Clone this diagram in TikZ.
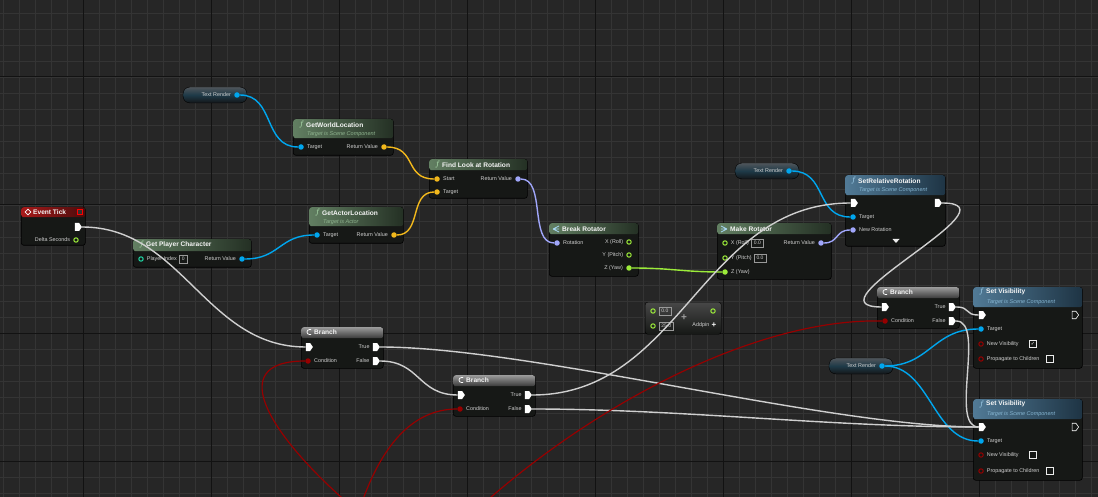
\documentclass[tikz,border=0pt]{standalone}
\usepackage{fontspec}
\setmainfont{Liberation Sans}
\newfontfamily\symfont{DejaVu Sans}
\usetikzlibrary{positioning,shapes.geometric,shapes.symbols}
\definecolor{bgcol}{HTML}{262626}
\definecolor{gridminor}{HTML}{343434}
\definecolor{gridmajor}{HTML}{121212}
\definecolor{bodycol}{HTML}{161816}
\definecolor{hgreenA}{HTML}{627F62}
\definecolor{hgreenB}{HTML}{243024}
\definecolor{hblueA}{HTML}{517A96}
\definecolor{hblueB}{HTML}{1E3444}
\definecolor{hgrayA}{HTML}{9A9A9A}
\definecolor{hgrayB}{HTML}{3A3A3A}
\definecolor{hredA}{HTML}{A81A1A}
\definecolor{hredB}{HTML}{4A0C0C}
\definecolor{varA}{HTML}{50565B}
\definecolor{varM}{HTML}{1E3A48}
\definecolor{varB}{HTML}{141618}
\definecolor{execcol}{HTML}{CFCFCF}
\definecolor{objcol}{HTML}{00A6EE}
\definecolor{veccol}{HTML}{F2B81C}
\definecolor{rotcol}{HTML}{A0A6FA}
\definecolor{fltcol}{HTML}{9CEC3A}
\definecolor{intcol}{HTML}{1FD9A6}
\definecolor{boolcol}{HTML}{960000}
\definecolor{pintext}{HTML}{D0D0D0}
\definecolor{fgreen}{HTML}{B4E6B4}
\definecolor{fblue}{HTML}{A8D8F4}
\definecolor{subgreen}{HTML}{8FB48F}
\definecolor{subblue}{HTML}{86B6D2}
\begin{document}
\begin{tikzpicture}[x=1pt,y=-1pt,
    pdat/.style={circle,inner sep=0,minimum size=5.5pt,fill=#1},
    phol/.style={circle,inner sep=0,minimum size=4.4pt,draw=#1,line width=1pt}]
  \tikzstyle{bpbody}=[anchor=north west,fill=bodycol,draw=black,rounded corners=2.5pt,inner sep=0,line width=0.6pt]
  \tikzstyle{hgreen}=[anchor=north west,inner sep=0,rounded corners=2.5pt,left color=hgreenA,right color=hgreenB]
  \tikzstyle{hblue}=[anchor=north west,inner sep=0,rounded corners=2.5pt,left color=hblueA,right color=hblueB]
  \tikzstyle{hgray}=[anchor=north west,inner sep=0,rounded corners=2.5pt,top color=hgrayA,bottom color=hgrayB]
  \tikzstyle{hred}=[anchor=north west,inner sep=0,rounded corners=2.5pt,left color=hredA,right color=hredB]
  \tikzstyle{varpill}=[rounded corners=7pt,draw=black,inner sep=0,top color=varA,bottom color=varB,middle color=varM,minimum width=64pt,minimum height=16pt]
  \tikzstyle{ttl}=[anchor=west,inner sep=0,text=white!92!gray,font=\fontsize{6.6}{7}\selectfont\bfseries]
  \tikzstyle{subttl}=[anchor=west,inner sep=0,font=\fontsize{5.5}{6}\selectfont\itshape]
  \tikzstyle{ficon}=[anchor=west,inner sep=0,font=\fontsize{8}{8}\selectfont]
  \tikzstyle{lbl}=[inner sep=0,text=pintext,font=\fontsize{5.4}{6}\selectfont]
  \tikzstyle{valbox}=[draw=gray!80,line width=0.5pt,inner sep=0,inner xsep=2.5pt,minimum height=8pt,text=pintext,font=\fontsize{5}{5}\selectfont]
  \tikzstyle{chkbox}=[draw=white!85!gray,line width=0.6pt,minimum size=6.5pt,inner sep=0,text=white,font=\symfont\fontsize{5}{5}\selectfont]
  \tikzstyle{pexec}=[signal,signal to=east,signal pointer angle=110,fill=white,inner sep=0,minimum width=7pt,minimum height=8pt]
  \tikzstyle{pexeco}=[signal,signal to=east,signal pointer angle=110,draw=white,line width=0.6pt,inner sep=0,minimum width=6.5pt,minimum height=7.5pt]
  \tikzstyle{wexec}=[draw=execcol,line width=1.4pt]
  \tikzstyle{wobj}=[draw=objcol,line width=1.4pt]
  \tikzstyle{wvec}=[draw=veccol,line width=1.4pt]
  \tikzstyle{wrot}=[draw=rotcol,line width=1.4pt]
  \tikzstyle{wflt}=[draw=fltcol,line width=1.4pt]
  \tikzstyle{wbool}=[draw=boolcol,line width=1.2pt]

  \useasboundingbox (0,0) rectangle (1098,497);
  \clip (0,0) rectangle (1098,497);
  \fill[bgcol] (0,0) rectangle (1098,497);
  % grid
  \foreach \x in {3,19,...,1098} \draw[gridminor,line width=0.8pt] (\x,0) -- (\x,497);
  \foreach \y in {13,29,...,497} \draw[gridminor,line width=0.8pt] (0,\y) -- (1098,\y);
  \foreach \x in {83,211,...,1098} \draw[gridmajor,line width=1pt] (\x,0) -- (\x,497);
  \foreach \y in {77,205,...,497} \draw[gridmajor,line width=1pt] (0,\y) -- (1098,\y);

  % text render getters
  \node[varpill] (tr1) at (215,95) {};
  \node[pdat=objcol] (tr1P) at (237,95) {};
  \node[lbl,left=3pt of tr1P] {Text Render};
  \node[varpill] (tr2) at (767,171) {};
  \node[pdat=objcol] (tr2P) at (789,171) {};
  \node[lbl,left=3pt of tr2P] {Text Render};
  \node[varpill] (tr3) at (861,366) {};
  \node[pdat=objcol] (tr3P) at (882,366) {};
  \node[lbl,left=3pt of tr3P] {Text Render};

  % event tick
  \node[bpbody,minimum width=64pt,minimum height=38pt] (et) at (21,207) {};
  \node[hred,minimum width=64pt,minimum height=10pt] (etH) at (21,207) {};
  \node[diamond,draw=white,line width=0.6pt,inner sep=0,minimum size=6pt] (etI) at (28,212) {};
  \node[ttl] at (33,212) {Event Tick};
  \node[draw=red,fill=black!80,line width=0.6pt,inner sep=0,minimum size=5pt] (etS) at (80,212) {};
  \node[pexec] (etX) at (77,227) {};
  \node[phol=fltcol] (etD) at (76,240) {};
  \node[lbl,left=3pt of etD] {Delta Seconds};

  % get player character
  \node[bpbody,minimum width=118pt,minimum height=28pt] (gpc) at (133,239) {};
  \node[hgreen,minimum width=118pt,minimum height=12pt] (gpcH) at (133,239) {};
  \node[ficon,text=fgreen] at (139,245) {$f$};
  \node[ttl] at (146,245) {Get Player Character};
  \node[phol=intcol] (gpcI) at (141,259) {};
  \node[lbl,right=3pt of gpcI] (gpcL) {Player Index};
  \node[valbox,right=2pt of gpcL] {0};
  \node[pdat=objcol] (gpcR) at (242,259) {};
  \node[lbl,left=3pt of gpcR] {Return Value};

  % get world location
  \node[bpbody,minimum width=100pt,minimum height=36pt] (gwl) at (293,119) {};
  \node[hgreen,minimum width=100pt,minimum height=19pt] (gwlH) at (293,119) {};
  \node[ficon,text=fgreen] at (299,125) {$f$};
  \node[ttl] at (306,125) {GetWorldLocation};
  \node[subttl,text=subgreen] at (307,134) {Target is Scene Component};
  \node[pdat=objcol] (gwlT) at (301,147) {};
  \node[lbl,right=3pt of gwlT] {Target};
  \node[pdat=veccol] (gwlR) at (384,147) {};
  \node[lbl,left=3pt of gwlR] {Return Value};

  % get actor location
  \node[bpbody,minimum width=94pt,minimum height=36pt] (gal) at (309,207) {};
  \node[hgreen,minimum width=94pt,minimum height=19pt] (galH) at (309,207) {};
  \node[ficon,text=fgreen] at (315,213) {$f$};
  \node[ttl] at (322,213) {GetActorLocation};
  \node[subttl,text=subgreen] at (323,222) {Target is Actor};
  \node[pdat=objcol] (galT) at (317,235) {};
  \node[lbl,right=3pt of galT] {Target};
  \node[pdat=veccol] (galR) at (394,235) {};
  \node[lbl,left=3pt of galR] {Return Value};

  % find look at rotation
  \node[bpbody,minimum width=98pt,minimum height=39pt] (flr) at (429,159) {};
  \node[hgreen,minimum width=98pt,minimum height=11pt] (flrH) at (429,159) {};
  \node[ficon,text=fgreen] at (435,165) {$f$};
  \node[ttl] at (442,165) {Find Look at Rotation};
  \node[pdat=veccol] (flrS) at (437,179) {};
  \node[lbl,right=3pt of flrS] {Start};
  \node[pdat=veccol] (flrT) at (437,192) {};
  \node[lbl,right=3pt of flrT] {Target};
  \node[pdat=rotcol] (flrR) at (518,179) {};
  \node[lbl,left=3pt of flrR] {Return Value};

  % break rotator
  \node[bpbody,minimum width=89pt,minimum height=53pt] (br) at (549,223) {};
  \node[hgreen,minimum width=89pt,minimum height=11pt] (brH) at (549,223) {};
  \draw[fblue,line width=0.7pt] (553,229) -- (559,226) (553,229) -- (559,229) (553,229) -- (559,232);
  \node[ttl] at (562,229) {Break Rotator};
  \node[pdat=rotcol] (brR) at (557,243) {};
  \node[lbl,right=3pt of brR] {Rotation};
  \node[phol=fltcol] (brX) at (629,242) {};
  \node[lbl,left=3pt of brX] {X (Roll)};
  \node[phol=fltcol] (brY) at (629,255) {};
  \node[lbl,left=3pt of brY] {Y (Pitch)};
  \node[pdat=fltcol] (brZ) at (629,268) {};
  \node[lbl,left=3pt of brZ] {Z (Yaw)};

  % make rotator
  \node[bpbody,minimum width=114pt,minimum height=56pt] (mr) at (717,223) {};
  \node[hgreen,minimum width=114pt,minimum height=11pt] (mrH) at (717,223) {};
  \draw[fblue,line width=0.7pt] (721,226) -- (727,229) (721,229) -- (727,229) (721,232) -- (727,229);
  \node[ttl] at (730,229) {Make Rotator};
  \node[phol=fltcol] (mrX) at (725,243) {};
  \node[lbl,right=3pt of mrX] (mrXL) {X (Roll)};
  \node[valbox,right=2pt of mrXL] {0.0};
  \node[phol=fltcol] (mrY) at (725,258) {};
  \node[lbl,right=3pt of mrY] (mrYL) {Y (Pitch)};
  \node[valbox,right=2pt of mrYL] {0.0};
  \node[pdat=fltcol] (mrZ) at (725,272) {};
  \node[lbl,right=3pt of mrZ] {Z (Yaw)};
  \node[pdat=rotcol] (mrR) at (821,243) {};
  \node[lbl,left=3pt of mrR] {Return Value};

  % set relative rotation
  \node[bpbody,minimum width=100pt,minimum height=71pt] (srr) at (845,175) {};
  \node[hblue,minimum width=100pt,minimum height=20pt] (srrH) at (845,175) {};
  \node[ficon,text=fblue] at (851,181) {$f$};
  \node[ttl] at (858,181) {SetRelativeRotation};
  \node[subttl,text=subblue] at (859,190) {Target is Scene Component};
  \node[pexec] (srrI) at (853,203) {};
  \node[pexec] (srrO) at (937,203) {};
  \node[pdat=objcol] (srrT) at (853,217) {};
  \node[lbl,right=3pt of srrT] {Target};
  \node[pdat=rotcol] (srrN) at (853,230) {};
  \node[lbl,right=3pt of srrN] {New Rotation};
  \fill[white!85!gray] (892.5,239) -- (899.5,239) -- (896,243) -- cycle;

  % branches
  \node[bpbody,minimum width=82pt,minimum height=41pt] (b1) at (301,327) {};
  \node[hgray,minimum width=82pt,minimum height=11pt] (b1H) at (301,327) {};
  \node[ttl] at (314,332) {Branch};
  \node[pexec] (b1I) at (308,347) {};
  \node[pexec] (b1t) at (375,347) {};
  \node[lbl,left=3pt of b1t] {True};
  \node[pdat=boolcol] (b1C) at (308,361) {};
  \node[lbl,right=3pt of b1C] {Condition};
  \node[pexec] (b1f) at (375,361) {};
  \node[lbl,left=3pt of b1f] {False};

  \node[bpbody,minimum width=82pt,minimum height=41pt] (b2) at (453,375) {};
  \node[hgray,minimum width=82pt,minimum height=11pt] (b2H) at (453,375) {};
  \node[ttl] at (466,380) {Branch};
  \node[pexec] (b2I) at (460,395) {};
  \node[pexec] (b2t) at (527,395) {};
  \node[lbl,left=3pt of b2t] {True};
  \node[pdat=boolcol] (b2C) at (460,409) {};
  \node[lbl,right=3pt of b2C] {Condition};
  \node[pexec] (b2f) at (527,409) {};
  \node[lbl,left=3pt of b2f] {False};

  \node[bpbody,minimum width=82pt,minimum height=41pt] (b3) at (877,287) {};
  \node[hgray,minimum width=82pt,minimum height=11pt] (b3H) at (877,287) {};
  \node[ttl] at (890,292) {Branch};
  \node[pexec] (b3I) at (884,307) {};
  \node[pexec] (b3t) at (951,307) {};
  \node[lbl,left=3pt of b3t] {True};
  \node[pdat=boolcol] (b3C) at (885,321) {};
  \node[lbl,right=3pt of b3C] {Condition};
  \node[pexec] (b3f) at (951,321) {};
  \node[lbl,left=3pt of b3f] {False};

  \foreach \bx/\by in {308/332,460/380,884/292}
    \draw[white,line width=0.7pt] (\bx+1.5,\by-2.5) arc[start angle=90,end angle=270,radius=2.5pt] -- ++(1.5,0) (\bx+1.5,\by-2.5) -- ++(1.5,0);

  % set visibility
  \node[bpbody,minimum width=109pt,minimum height=81pt] (sv1) at (973,287) {};
  \node[hblue,minimum width=109pt,minimum height=20pt] (sv1H) at (973,287) {};
  \node[ficon,text=fblue] at (979,292) {$f$};
  \node[ttl] at (986,292) {Set Visibility};
  \node[subttl,text=subblue] at (987,302) {Target is Scene Component};
  \node[pexec] (sv1I) at (981,315) {};
  \node[pexeco] (sv1O) at (1074,315) {};
  \node[pdat=objcol] (sv1T) at (981,329) {};
  \node[lbl,right=3pt of sv1T] {Target};
  \node[phol=boolcol] (sv1V) at (981,344) {};
  \node[lbl,right=3pt of sv1V] {New Visibility};
  \node[chkbox] (sv1Vc) at (1033,344) {✓};
  \node[phol=boolcol] (sv1P) at (981,359) {};
  \node[lbl,right=3pt of sv1P] {Propagate to Children};
  \node[chkbox] (sv1Pc) at (1050,359) {};

  \node[bpbody,minimum width=109pt,minimum height=81pt] (sv2) at (973,399) {};
  \node[hblue,minimum width=109pt,minimum height=20pt] (sv2H) at (973,399) {};
  \node[ficon,text=fblue] at (979,404) {$f$};
  \node[ttl] at (986,404) {Set Visibility};
  \node[subttl,text=subblue] at (987,414) {Target is Scene Component};
  \node[pexec] (sv2I) at (981,427) {};
  \node[pexeco] (sv2O) at (1074,427) {};
  \node[pdat=objcol] (sv2T) at (981,441) {};
  \node[lbl,right=3pt of sv2T] {Target};
  \node[phol=boolcol] (sv2V) at (981,455) {};
  \node[lbl,right=3pt of sv2V] {New Visibility};
  \node[chkbox] (sv2Vc) at (1033,455) {};
  \node[phol=boolcol] (sv2P) at (981,471) {};
  \node[lbl,right=3pt of sv2P] {Propagate to Children};
  \node[chkbox] (sv2Pc) at (1050,471) {};

  % add node
  \node[anchor=north west,draw=black,rounded corners=2.5pt,inner sep=0,top color=black!72,bottom color=bodycol,minimum width=76pt,minimum height=32pt] (add) at (645,302) {};
  \node[phol=fltcol] (addA) at (653,311) {};
  \node[valbox,right=3pt of addA] {0.0};
  \node[phol=fltcol] (addB) at (653,326) {};
  \node[valbox,right=3pt of addB] {25.0};
  \node[inner sep=0,text=gray!75,font=\bfseries\fontsize{10}{10}\selectfont] (addPlus) at (684,318) {+};
  \node[phol=fltcol] (addO) at (713,311) {};
  \node[inner sep=0,text=white,font=\bfseries\fontsize{8}{8}\selectfont] (addN) at (714,325.5) {+};
  \node[lbl,left=2pt of addN] {Addpin};

  % wires
  \draw[wobj] (tr1P.east) .. controls +(35,0) and +(-35,0) .. (gwlT.west);
  \draw[wobj] (gpcR.east) .. controls +(35,0) and +(-35,0) .. (galT.west);
  \draw[wvec] (gwlR.east) .. controls +(30,0) and +(-30,0) .. (flrS.west);
  \draw[wvec] (galR.east) .. controls +(25,0) and +(-25,0) .. (flrT.west);
  \draw[wrot] (flrR.east) .. controls +(25,0) and +(-25,0) .. (brR.west);
  \draw[wflt] (brZ.east) .. controls +(40,0) and +(-40,0) .. (mrZ.west);
  \draw[wrot] (mrR.east) .. controls +(15,0) and +(-15,0) .. (srrN.west);
  \draw[wobj] (tr2P.east) .. controls +(35,0) and +(-35,0) .. (srrT.west);
  \draw[wobj] (tr3P.east) .. controls +(45,0) and +(-45,0) .. (sv1T.west);
  \draw[wobj] (tr3P.east) .. controls +(45,0) and +(-45,0) .. (sv2T.west);

  \draw[wexec] (etX.east) .. controls +(100,0) and +(-100,0) .. (b1I.west);
  \draw[wexec] (b1t.east) .. controls +(150,0) and +(-150,0) .. (sv2I.west);
  \draw[wexec] (b1f.east) .. controls +(40,0) and +(-40,0) .. (b2I.west);
  \draw[wexec] (b2t.east) .. controls +(150,0) and +(-150,0) .. (srrI.west);
  \draw[wexec] (b2f.east) .. controls +(150,0) and +(-150,0) .. (sv2I.west);
  \draw[wexec] (srrO.east) .. controls +(80,0) and +(-80,0) .. (b3I.west);
  \draw[wexec] (b3t.east) .. controls +(15,0) and +(-15,0) .. (sv1I.west);
  \draw[wexec] (b3f.east) .. controls +(30,0) and +(-30,0) .. (sv2I.west);

  \coordinate (condA) at (350,505);
  \coordinate (condB) at (361,505);
  \coordinate (condC) at (482,505);
  \draw[wbool] (b1C.west) .. controls (220,361) and (275,440) .. (condA);
  \draw[wbool] (b2C.west) .. controls (410,409) and (380,450) .. (condB);
  \draw[wbool] (b3C.west) .. controls (760,318) and (600,400) .. (condC);
\end{tikzpicture}
\end{document}
